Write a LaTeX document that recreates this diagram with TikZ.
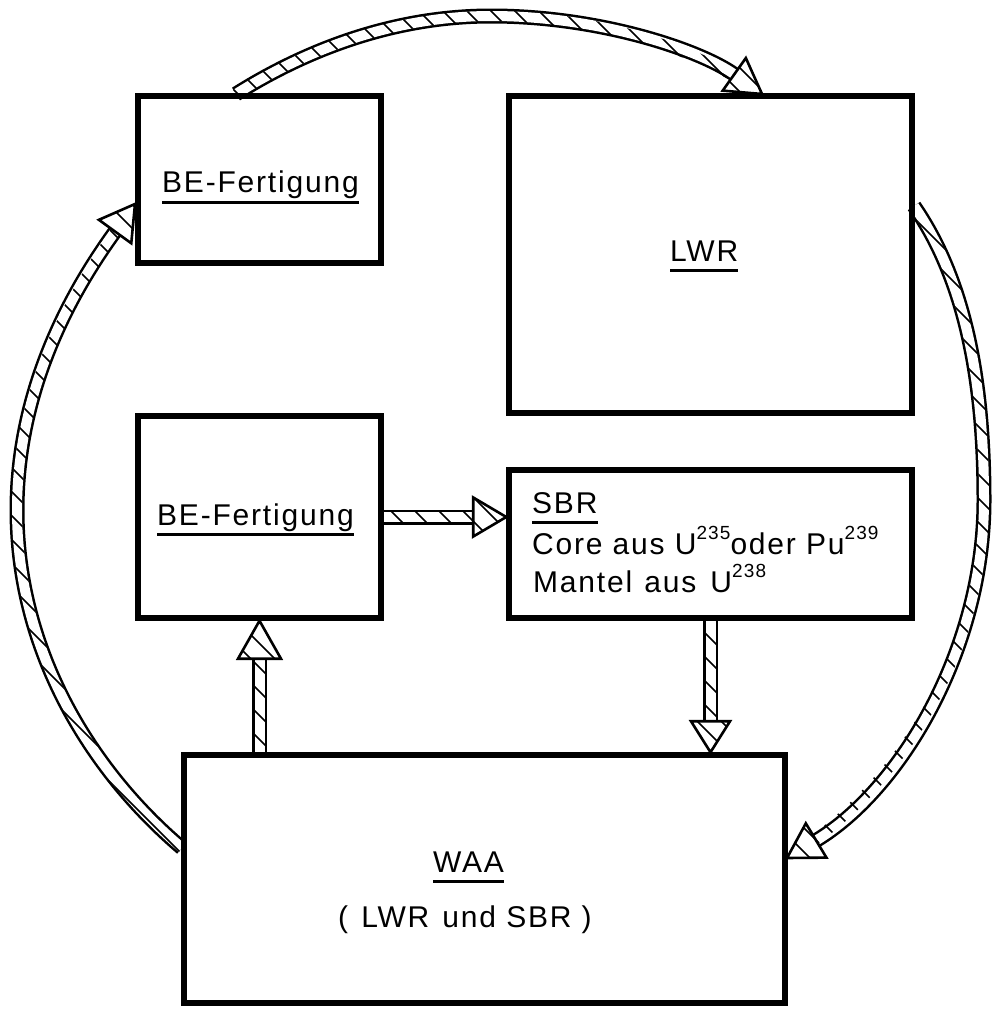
\documentclass[tikz,border=0pt]{standalone}
\usepackage{fontspec}
\setmainfont{Liberation Sans}
\newfontfamily\lbl{Liberation Sans}[LetterSpace=6]
\usetikzlibrary{decorations.markings,calc}
\pgfdeclarelayer{background}
\pgfsetlayers{background,main}

\newcommand\hatchsep{24}
\newcommand\mysup[1]{\raisebox{0.48em}{\fontsize{19}{19}\selectfont #1}}

% union of small boxes along the path = the inside of the shaft
\pgfdeclaredecoration{shaftboxes}{initial}{
  \state{initial}[width=3pt]{
    \pgfpathrectangle{\pgfpoint{-0.3pt}{-5.3pt}}{\pgfpoint{3.6pt}{10.6pt}}
  }
  \state{final}{
    \pgfpathrectangle{\pgfpoint{-0.3pt}{-5.3pt}}{\pgfpoint{3.6pt}{10.6pt}}
  }
}
% page-wide "\" hatching, to be used inside a clip
\newcommand\hatchall{%
  \pgftransformreset
  \foreach \hk in {-44,...,43}{%
    \pgfmathsetmacro\hmc{\hk*\hatchsep}%
    \draw[hatchline] (\hmc pt+1030pt,-1030pt) -- (\hmc pt-30pt,30pt);
  }%
}
% open hatched arrow head: tip, point behind, length, half width
\newcommand\headat[4]{%
  \pgfmathanglebetweenpoints{\pgfpointanchor{#2}{center}}{\pgfpointanchor{#1}{center}}%
  \let\hdang\pgfmathresult
  \begin{scope}[shift={(#1)}, rotate=\hdang]
    \fill[white] (0pt,0pt) -- (-#3pt,#4pt) -- (-#3pt,-#4pt) -- cycle;
    \begin{scope}
      \clip (0pt,0pt) -- (-#3pt,#4pt) -- (-#3pt,-#4pt) -- cycle;
      \hatchall
    \end{scope}
    \draw[line width=2.6pt, line join=miter] (0pt,0pt) -- (-#3pt,#4pt) -- (-#3pt,-#4pt) -- cycle;
  \end{scope}}

\tikzset{
  box/.style={draw, line width=5.5pt, inner sep=0pt},
  txt/.style={font=\lbl\fontsize{30}{30}\selectfont, inner sep=0pt, anchor=base west},
  uline/.style={line width=3pt},
  hatchline/.style={line width=1.5pt, draw=black, shorten >=0pt, shorten <=0pt},
  shaft/.style={draw=white, line width=10pt, shorten >=#1pt,
    preaction={draw=black, line width=15pt}},
  shaftclip/.style={decorate, decoration={shaftboxes, post=moveto, post length=#1pt}}
}
\newcommand\hatchedarrow[2]{% path, head length
  \draw[shaft=#2] #1;
  \begin{scope}
    \clip[shaftclip=#2] #1;
    \hatchall
  \end{scope}
}

\begin{document}
\begin{tikzpicture}[x=1pt,y=-1pt]
\useasboundingbox (0,0) rectangle (991,1009);

% boxes
\node[box, minimum width=243pt, minimum height=167pt] (be1) at (259.5,179.5) {};
\node[box, minimum width=403pt, minimum height=317pt] (lwr) at (710.5,254.5) {};
\node[box, minimum width=243pt, minimum height=202pt] (be2) at (259.5,517) {};
\node[box, minimum width=403pt, minimum height=148pt] (sbr) at (710.5,544) {};
\node[box, minimum width=601pt, minimum height=248pt] (waa) at (484.5,879) {};

% texts
\node[txt] (t1) at (162,192) {BE-Fertigung};
\draw[uline] ([yshift=-10pt]t1.base west) -- ([yshift=-10pt]t1.base east);
\node[txt] (t2) at (670,261) {LWR};
\draw[uline] ([yshift=-9.5pt]t2.base west) -- ([yshift=-9.5pt]t2.base east);
\node[txt] (t3) at (157,525) {BE-Fertigung};
\draw[uline] ([yshift=-9.5pt]t3.base west) -- ([yshift=-9.5pt]t3.base east);
\node[txt] (t4) at (532,513) {SBR};
\draw[uline] ([yshift=-9.5pt]t4.base west) -- ([yshift=-9.5pt]t4.base east);
\node[txt] (t5) at (532,554) {Core aus U\mysup{235}oder Pu\mysup{239}};
\node[txt] (t6) at (533,592) {Mantel\hspace{2pt} aus\hspace{4pt} U\mysup{238}};
\node[txt] (t7) at (433,872) {WAA};
\draw[uline] ([yshift=-9pt]t7.base west) -- ([yshift=-9pt]t7.base east);
\node[txt] (t8) at (338,927) {(\hspace{3pt} LWR \hspace{3pt}und SBR )};

% arrows (behind the box outlines)
\begin{pgfonlayer}{background}
\coordinate (ta0) at (236,94);
\coordinate (tac) at (700,50);
\coordinate (ta1) at (762,94);
\hatchedarrow{(ta0) .. controls (290,60) and (380,16) .. (491,16)
  .. controls (600,16) and (tac) .. (ta1)}{34}
\headat{ta1}{tac}{34}{20}

\coordinate (ra0) at (914,206);
\coordinate (rac) at (900,790);
\coordinate (ra1) at (787,858);
\hatchedarrow{(ra0) .. controls (965,280) and (984,380) .. (984,500)
  .. controls (984,650) and (rac) .. (ra1)}{34}
\headat{ra1}{rac}{34}{20}

\coordinate (la0) at (182,848);
\coordinate (lac) at (80,280);
\coordinate (la1) at (135,204);
\hatchedarrow{(la0) .. controls (90,770) and (17,650) .. (17,510)
  .. controls (17,380) and (lac) .. (la1)}{34}
\headat{la1}{lac}{34}{20}

\coordinate (h0) at (be2.east);
\coordinate (h1) at (sbr.west |- be2.east);
\hatchedarrow{(h0) -- (h1)}{33}
\headat{h1}{h0}{33}{19.5}

\coordinate (u0) at (be2.south |- waa.north);
\coordinate (u1) at (be2.south);
\hatchedarrow{(u0) -- (u1)}{38}
\headat{u1}{u0}{38}{21.5}

\coordinate (d0) at (sbr.south);
\coordinate (d1) at (sbr.south |- waa.north);
\hatchedarrow{(d0) -- (d1)}{31}
\headat{d1}{d0}{31}{19.5}
\end{pgfonlayer}
\end{tikzpicture}
\end{document}
